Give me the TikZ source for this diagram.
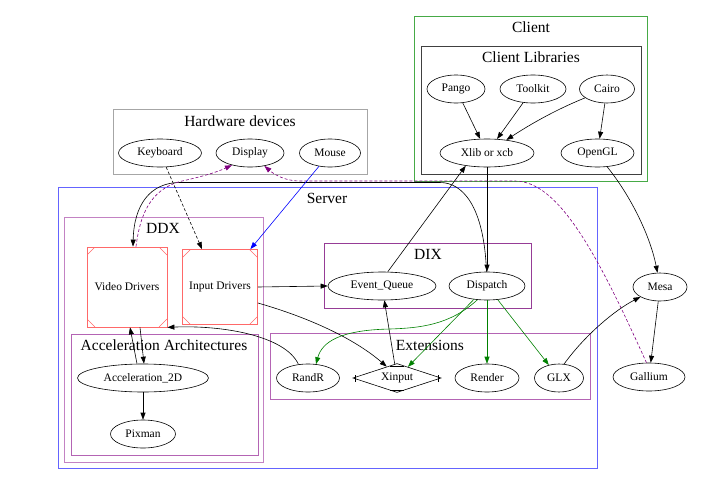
\documentclass[tikz,border=0pt]{standalone}
\usepackage{fontspec}
\setmainfont{Liberation Serif}
\usetikzlibrary{shapes.geometric,arrows.meta}
\definecolor{redc}{RGB}{255,105,105}
\definecolor{greenc}{RGB}{70,170,70}
\definecolor{bluec}{RGB}{100,100,255}
\definecolor{purA}{RGB}{150,60,150}
\definecolor{purB}{RGB}{180,100,180}
\definecolor{purC}{RGB}{195,130,195}
\definecolor{edgegreen}{RGB}{0,128,0}
\definecolor{edgepurple}{RGB}{128,0,128}
\begin{document}
\begin{tikzpicture}[x=1pt,y=1pt,
  every node/.style={font=\fontsize{11.5}{13}\selectfont},
  ell/.style={ellipse,draw,line width=0.6pt,inner sep=0pt,minimum height=28pt,minimum width=#1},
  clus/.style={draw=#1,line width=0.8pt},
  clabel/.style={font=\fontsize{15.5}{18}\selectfont,inner sep=0pt},
  arr/.style={-{Triangle[length=7pt,width=5pt]},line width=0.6pt},
  dsh/.style={dash pattern=on 3pt off 2pt},
  msq/.style={draw=redc,line width=0.8pt,minimum width=#1,minimum height=#1,inner sep=0pt,
    path picture={
      \draw[redc,line width=0.6pt] ([yshift=-8pt]path picture bounding box.north west) -- ([xshift=8pt]path picture bounding box.north west);
      \draw[redc,line width=0.6pt] ([yshift=-8pt]path picture bounding box.north east) -- ([xshift=-8pt]path picture bounding box.north east);
      \draw[redc,line width=0.6pt] ([yshift=8pt]path picture bounding box.south west) -- ([xshift=8pt]path picture bounding box.south west);
      \draw[redc,line width=0.6pt] ([yshift=8pt]path picture bounding box.south east) -- ([xshift=-8pt]path picture bounding box.south east);
    }},
]
\useasboundingbox (0,0) rectangle (721,-490);

% clusters
\draw[clus=greenc] (414,-16) rectangle (647,-181);
\node[clabel] (lclient) at (531,-27) {Client};
\draw[clus=black!75] (421,-46) rectangle (641,-174);
\node[clabel] (lclientlib) at (531,-57) {Client Libraries};
\draw[clus=black!35] (113,-109) rectangle (367,-174);
\node[clabel] (lhw) at (240,-121) {Hardware devices};
\draw[clus=bluec] (58,-187) rectangle (597,-468);
\node[clabel] (lserver) at (327,-198) {Server};
\draw[clus=purC] (64,-217) rectangle (263,-462);
\node[clabel] (lddx) at (163,-228) {DDX};
\draw[clus=purB] (71,-334) rectangle (258,-455);
\node[clabel] (laccel) at (164,-345) {Acceleration Architectures};
\draw[clus=purA] (324,-243) rectangle (531,-308);
\node[clabel] (ldix) at (428,-254) {DIX};
\draw[clus=purB] (270,-333) rectangle (590,-399);
\node[clabel] (lext) at (430,-345) {Extensions};

% nodes
\node[ell=58pt] (pango) at (456,-89) {Pango};
\node[ell=66pt] (toolkit) at (533,-89) {Toolkit};
\node[ell=55pt] (cairo) at (607,-89) {Cairo};
\node[ell=94pt] (xlib) at (487,-153) {Xlib or xcb};
\node[ell=73pt] (opengl) at (597.5,-153) {OpenGL};
\node[ell=83pt] (keyboard) at (160,-153) {Keyboard};
\node[ell=68pt] (display) at (250,-153) {Display};
\node[ell=61pt] (mouse) at (330,-153) {Mouse};
\node[msq=80pt] (vd) at (127,-287) {Video Drivers};
\node[msq=75pt] (id) at (220,-287) {Input Drivers};
\node[ell=131pt] (accel) at (143,-378) {Acceleration\_2D};
\node[ell=65pt] (pixman) at (143,-434) {Pixman};
\node[ell=108pt] (eq) at (382,-286) {Event\_Queue};
\node[ell=76pt] (dispatch) at (487,-286) {Dispatch};
\node[ell=63pt] (randr) at (308,-378) {RandR};
\node[diamond,draw,line width=0.6pt,inner sep=0pt,shape aspect=3,minimum width=88pt,minimum height=29pt] (xinput) at (397,-378) {Xinput};
\node[ell=64pt] (render) at (487,-378) {Render};
\node[ell=49pt] (glx) at (559,-378) {GLX};
\node[ell=54pt] (mesa) at (660,-287) {Mesa};
\node[ell=72pt] (gallium) at (649,-377) {Gallium};

% Mdiamond marks
\draw[line width=0.6pt] ([xshift=3pt]xinput.west) ++(0,-3.5) -- ++(0,7);
\draw[line width=0.6pt] ([xshift=-3pt]xinput.east) ++(0,-3.5) -- ++(0,7);
\draw[line width=0.6pt] ([yshift=-2.7pt]xinput.north) ++(-7,0) -- ++(14,0);
\draw[line width=0.6pt] ([yshift=2.7pt]xinput.south) ++(-7,0) -- ++(14,0);

% edges
\draw[arr] (pango) -- (xlib);
\draw[arr] (toolkit) -- (xlib);
\draw[arr] (cairo.202) .. controls (565,-106) and (540,-118) .. (xlib.34);
\draw[arr] (cairo) -- (opengl);
\draw[arr] (xlib) -- (dispatch);
\draw[arr] (eq.68) -- (xlib.211);
\draw[arr] (dispatch.92) .. controls (484,-205) and (462,-182.5) .. (440,-182.5) -- (180,-182.5) .. controls (150,-182.5) and (134,-205) .. ([xshift=6pt]vd.north);
\draw[arr,dsh,edgepurple] ([xshift=9pt]vd.north) .. controls (140,-215) and (150,-190) .. (180,-181.5) .. controls (200,-177) and (215,-173) .. (display.214);
\draw[arr,dsh,edgepurple] (gallium.100) .. controls (600,-260) and (560,-181) .. (515,-181) -- (300,-181) .. controls (287,-181) and (276,-176) .. (display.318);
\draw[arr,dsh] (keyboard) -- ([xshift=-18pt]id.north);
\draw[arr,blue] (mouse) -- ([xshift=-7.5pt]id.north east);
\draw[arr] (id.east) -- (eq.west);
\draw[arr] ([yshift=-16pt]id.east) .. controls (300,-315) and (350,-335) .. (xinput.132);
\draw[arr] (randr.125) .. controls (285,-335) and (220,-325) .. (vd.south east);
\draw[arr] (xinput) -- (eq);
\draw[arr,edgegreen] (dispatch.235) .. controls (450,-325) and (420,-328) .. (390,-329) .. controls (340,-330) and (322,-342) .. (randr.60);
\draw[arr,edgegreen] (dispatch) -- (xinput);
\draw[arr,edgegreen] (dispatch) -- (render);
\draw[arr,edgegreen] (dispatch) -- (glx);
\draw[arr] (glx.70) .. controls (585,-335) and (615,-310) .. (mesa.207);
\draw[arr] (opengl.-55) .. controls (630,-195) and (650,-235) .. (mesa.100);
\draw[arr] (mesa) -- (gallium);
\draw[arr] ([xshift=13pt]vd.south) -- ([xshift=1pt]accel.north);
\draw[arr] ([xshift=-6pt]accel.north) -- ([xshift=3pt]vd.south);
\draw[arr] (accel) -- (pixman);
\end{tikzpicture}
\end{document}
